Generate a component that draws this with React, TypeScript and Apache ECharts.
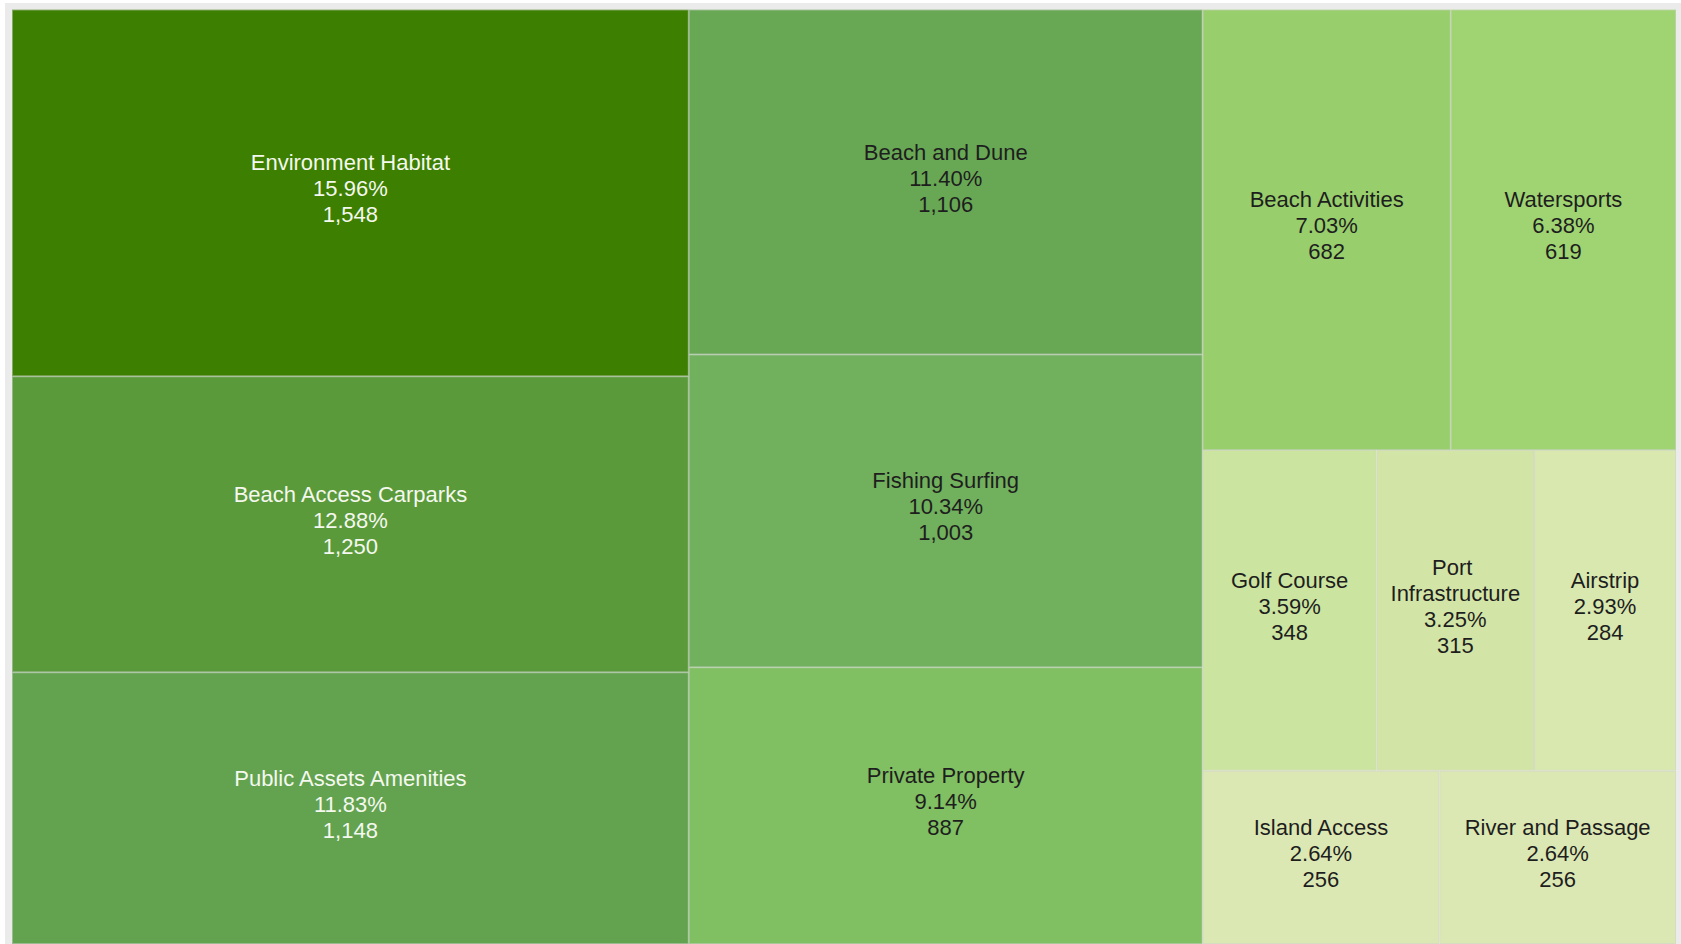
import React, { useEffect, useRef } from "react";
import * as echarts from "echarts";

const categories: string[] = [
  "Environment Habitat",
  "Beach Access Carparks",
  "Public Assets Amenities",
  "Beach and Dune",
  "Fishing Surfing",
  "Private Property",
  "Beach Activities",
  "Watersports",
  "Golf Course",
  "Port Infrastructure",
  "Airstrip",
  "River and Passage",
  "Island Access",
];

const counts: number[] = [1548, 1250, 1148, 1106, 1003, 887, 682, 619, 348, 315, 284, 256, 256];

const cellColors: string[] = [
  "#3d7f00",
  "#5b9a3b",
  "#63a350",
  "#68a855",
  "#71b05d",
  "#80bf62",
  "#98ce6c",
  "#a0d472",
  "#cbe5a0",
  "#d3e5a6",
  "#d8e8af",
  "#dce8b3",
  "#dce8b3",
];

const labelColors: string[] = [
  "#f4f8ee",
  "#f4f8ee",
  "#f4f8ee",
  "#1e1e1e",
  "#1e1e1e",
  "#1e1e1e",
  "#1e1e1e",
  "#1e1e1e",
  "#1e1e1e",
  "#1e1e1e",
  "#1e1e1e",
  "#1e1e1e",
  "#1e1e1e",
];

function mix(hex: string, other: string, t: number): string {
  const p = (h: string) => [1, 3, 5].map((i) => parseInt(h.slice(i, i + 2), 16));
  const a = p(hex);
  const b = p(other);
  const c = a.map((v, i) => Math.round(v * (1 - t) + b[i] * t));
  return "#" + c.map((v) => v.toString(16).padStart(2, "0")).join("");
}

export default function App() {
  const ref = useRef<HTMLDivElement>(null);

  useEffect(() => {
    if (!ref.current) return;
    const chart = echarts.init(ref.current, undefined, { renderer: "svg" });
    const total = counts.reduce((s, v) => s + v, 0);

    const data = categories.map((name, i) => ({
      name,
      value: counts[i],
      itemStyle: {
        color: cellColors[i],
        borderColor: mix(cellColors[i], "#d0d0d0", 0.5),
        borderWidth: 1,
      },
      label: { color: labelColors[i] },
    }));

    chart.setOption({
      animation: false,
      graphic: [
        {
          type: "rect",
          z: 0,
          shape: { x: 5, y: 3, width: 1676, height: 960 },
          style: { fill: "#ebebeb" },
          silent: true,
        },
      ],
      series: [
        {
          type: "treemap",
          z: 2,
          left: 12,
          top: 9.6,
          right: 5,
          bottom: 0,
          roam: false,
          nodeClick: false,
          breadcrumb: { show: false },
          sort: "desc",
          itemStyle: { gapWidth: 0, borderWidth: 0 },
          levels: [
            { itemStyle: { borderWidth: 0, gapWidth: 0 } },
            { itemStyle: { gapWidth: 0 } },
          ],
          label: {
            show: true,
            position: "inside",
            align: "center",
            verticalAlign: "middle",
            offset: [0, -4],
            fontFamily: "Arial, 'Liberation Sans', sans-serif",
            fontSize: 22,
            lineHeight: 26,
            overflow: "break",
            formatter: (p: any) =>
              `${p.name}\n${((p.value / total) * 100).toFixed(2)}%\n${Number(p.value).toLocaleString("en-US")}`,
          },
          data,
        },
      ],
    });

    return () => chart.dispose();
  }, []);

  return (
    <div
      ref={ref}
      style={{ position: "absolute", left: 0, top: 0, width: 1681, height: 944 }}
    />
  );
}
